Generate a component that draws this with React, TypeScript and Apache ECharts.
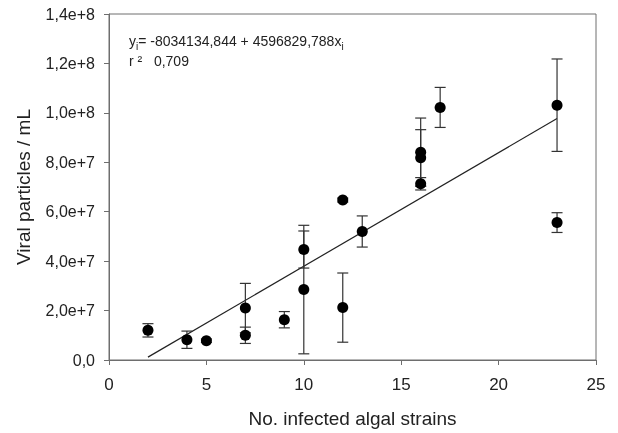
import React, { useEffect, useRef } from "react";
import * as echarts from "echarts";

const xValues = [2, 4, 5, 7, 7, 9, 10, 10, 12, 12, 13, 16, 16, 16, 17, 23, 23];
const yValues = [1.2e7, 0.82e7, 0.78e7, 1.0e7, 2.1e7, 1.63e7, 4.47e7, 2.85e7, 2.12e7, 6.47e7, 5.2e7, 8.41e7, 8.18e7, 7.13e7, 1.022e8, 1.031e8, 5.56e7];
const yErrors = [0.27e7, 0.35e7, 0.07e7, 0.33e7, 1.0e7, 0.33e7, 0.75e7, 2.6e7, 1.4e7, 0.08e7, 0.63e7, 1.38e7, 1.14e7, 0.25e7, 0.81e7, 1.87e7, 0.4e7];
const trendX = [2, 23];
const trendY = [1.16e6, 9.77e7];
const yTickLabels: Record<string, string> = {
  "0": "0,0",
  "20000000": "2,0e+7",
  "40000000": "4,0e+7",
  "60000000": "6,0e+7",
  "80000000": "8,0e+7",
  "100000000": "1,0e+8",
  "120000000": "1,2e+8",
  "140000000": "1,4e+8",
};

export default function App() {
  const ref = useRef<HTMLDivElement>(null);
  useEffect(() => {
    if (!ref.current) return;
    const chart = echarts.init(ref.current, undefined, { renderer: "svg" });
    const font = "'Liberation Sans', Arial, sans-serif";
    const axisColor = "#6e6e6e";
    const points = xValues.map((x, i) => [x, yValues[i]]);
    const bars = xValues.map((x, i) => [x, yValues[i] - yErrors[i], yValues[i] + yErrors[i]]);
    chart.setOption({
      animation: false,
      grid: {
        left: 109,
        right: 22,
        top: 14,
        bottom: 70,
        show: true,
        borderColor: axisColor,
        borderWidth: 1,
      },
      xAxis: {
        type: "value",
        min: 0,
        max: 25,
        interval: 5,
        name: "No. infected algal strains",
        nameLocation: "middle",
        nameGap: 49,
        nameTextStyle: { fontFamily: font, fontSize: 19, color: "#222" },
        axisLine: { show: true, lineStyle: { color: axisColor } },
        axisTick: { show: true, length: 5, lineStyle: { color: axisColor } },
        axisLabel: { fontFamily: font, fontSize: 17, color: "#222", margin: 16 },
        splitLine: { show: false },
      },
      yAxis: {
        type: "value",
        min: 0,
        max: 1.4e8,
        interval: 2e7,
        name: "Viral particles / mL",
        nameLocation: "middle",
        nameGap: 76,
        nameTextStyle: { fontFamily: font, fontSize: 19, color: "#222" },
        axisLine: { show: true, lineStyle: { color: axisColor } },
        axisTick: { show: true, length: 5, lineStyle: { color: axisColor } },
        axisLabel: {
          fontFamily: font,
          fontSize: 16,
          color: "#222",
          margin: 14,
          formatter: (v: number) => yTickLabels[String(Math.round(v))] ?? String(v),
        },
        splitLine: { show: false },
      },
      series: [
        {
          type: "line",
          data: trendX.map((x, i) => [x, trendY[i]]),
          showSymbol: false,
          symbol: "none",
          lineStyle: { color: "#222", width: 1.2 },
          z: 2,
        },
        {
          type: "custom",
          data: bars,
          z: 3,
          renderItem: (params: any, api: any) => {
            const x = api.value(0);
            const lo = api.coord([x, api.value(1)]);
            const hi = api.coord([x, api.value(2)]);
            const hw = 5.5;
            const style = { stroke: "#333", lineWidth: 1.2 };
            return {
              type: "group",
              children: [
                { type: "line", shape: { x1: lo[0], y1: lo[1], x2: hi[0], y2: hi[1] }, style },
                { type: "line", shape: { x1: lo[0] - hw, y1: lo[1], x2: lo[0] + hw, y2: lo[1] }, style },
                { type: "line", shape: { x1: hi[0] - hw, y1: hi[1], x2: hi[0] + hw, y2: hi[1] }, style },
              ],
            };
          },
        },
        {
          type: "scatter",
          data: points,
          symbol: "circle",
          symbolSize: 11,
          itemStyle: { color: "#000", opacity: 1 },
          z: 4,
        },
      ],
      graphic: [
        {
          type: "text",
          left: 129,
          top: 34,
          style: {
            text: "{a|y}{s|i}{a|= -8034134,844 + 4596829,788x}{s|i}",
            rich: {
              a: { fontFamily: font, fontSize: 14, fill: "#222", verticalAlign: "bottom", lineHeight: 16 },
              s: { fontFamily: font, fontSize: 10, fill: "#222", verticalAlign: "bottom", lineHeight: 11, padding: [0, 0, -3, 0] },
            },
          },
        },
        {
          type: "text",
          left: 129,
          top: 54,
          style: {
            text: "r ²   0,709",
            fontFamily: font,
            fontSize: 14,
            fill: "#222",
          },
        },
      ],
    });
    return () => chart.dispose();
  }, []);
  return <div ref={ref} style={{ position: "fixed", left: 0, top: 0, width: 618, height: 433 }} />;
}
